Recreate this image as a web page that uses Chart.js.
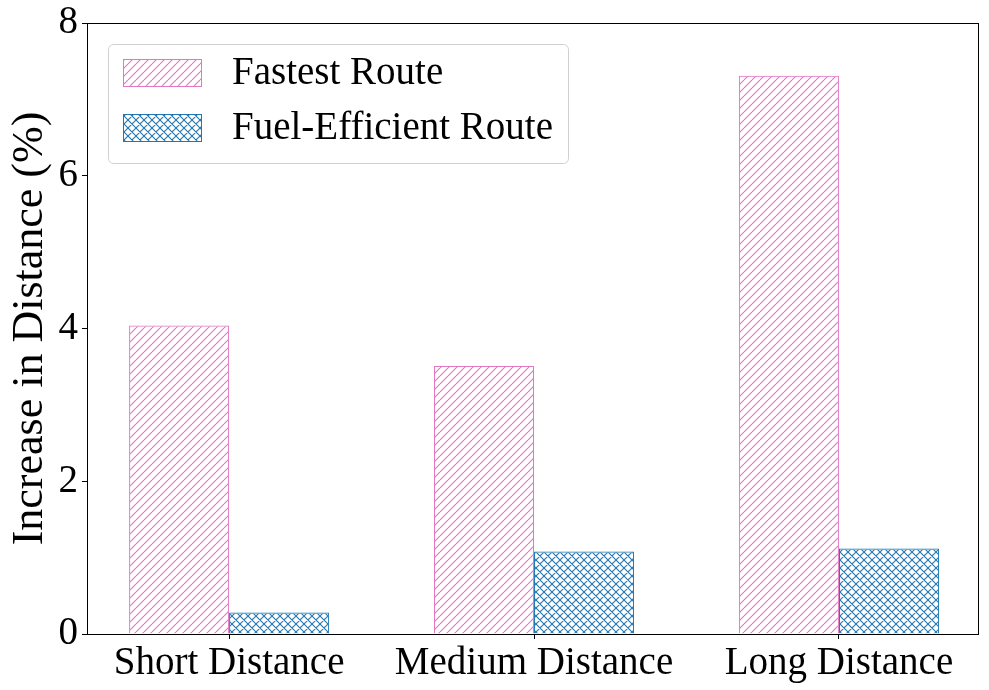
<!DOCTYPE html>
<html>
<head>
<meta charset="utf-8">
<script src="https://cdn.jsdelivr.net/npm/chart.js@4/dist/chart.umd.min.js"></script>
<style>
  html, body { margin: 0; padding: 0; background: #fff; }
  #wrap { width: 989px; height: 690px; }
</style>
</head>
<body>
<div id="wrap"><canvas id="chart" width="989" height="690"></canvas></div>
<script>
const categories = ['Short Distance', 'Medium Distance', 'Long Distance'];
const fastestRoute = [4.04, 3.51, 7.31];
const fuelEfficientRoute = [0.28, 1.08, 1.12];
const yTicks = [0, 2, 4, 6, 8];

const PINK = '#e377c2';
const BLUE = '#1f77b4';
const FONT = '"Liberation Serif", "Times New Roman", serif';

// hatch tiles, close to matplotlib's '//' and 'xx'
function hatch(color, cross) {
  const size = 8;
  const c = document.createElement('canvas');
  c.width = size; c.height = size;
  const g = c.getContext('2d');
  g.strokeStyle = color;
  g.lineWidth = 1.1;
  g.beginPath();
  for (let k = 0; k <= 2 * size; k += size) {
    g.moveTo(k, 0); g.lineTo(k - size, size);
    if (cross) { g.moveTo(k - size, 0); g.lineTo(k, size); }
  }
  g.stroke();
  return document.getElementById('chart').getContext('2d').createPattern(c, 'repeat');
}

const pinkHatch = hatch(PINK, false);
const blueHatch = hatch(BLUE, true);

const toPoints = vals => vals.map((v, i) => ({ x: i, y: v }));

// box around plot + legend inside it
const framePlugin = {
  id: 'frame',
  afterDraw(chart) {
    const { ctx, chartArea: a } = chart;
    ctx.save();
    ctx.strokeStyle = '#000';
    ctx.lineWidth = 1;
    ctx.strokeRect(a.left + 0.5, a.top + 0.5, a.right - a.left, a.bottom - a.top);

    const x0 = a.left + 21, y0 = a.top + 21, w = 460, h = 119;
    ctx.fillStyle = 'rgba(255,255,255,0.8)';
    ctx.strokeStyle = '#d0d0d0';
    ctx.beginPath();
    ctx.roundRect(x0 + 0.5, y0 + 0.5, w, h, 5);
    ctx.fill();
    ctx.stroke();

    ctx.font = '39px ' + FONT;
    ctx.textBaseline = 'middle';
    chart.data.datasets.forEach((ds, i) => {
      const py = y0 + 15 + i * 55;
      ctx.fillStyle = '#fff';
      ctx.fillRect(x0 + 15, py, 78, 27);
      ctx.fillStyle = ds.backgroundColor;
      ctx.fillRect(x0 + 15, py, 78, 27);
      ctx.strokeStyle = ds.borderColor;
      ctx.strokeRect(x0 + 15.5, py + 0.5, 78, 27);
      ctx.fillStyle = '#000';
      ctx.fillText(ds.label, x0 + 124, py + 15);
    });
    ctx.restore();
  }
};

new Chart(document.getElementById('chart'), {
  type: 'bar',
  data: {
    datasets: [
      { label: 'Fastest Route', data: toPoints(fastestRoute), backgroundColor: pinkHatch, borderColor: PINK, borderWidth: 1 },
      { label: 'Fuel-Efficient Route', data: toPoints(fuelEfficientRoute), backgroundColor: blueHatch, borderColor: BLUE, borderWidth: 1 }
    ]
  },
  options: {
    responsive: false,
    animation: false,
    devicePixelRatio: 1,
    layout: { padding: { top: 23, right: 11, left: 0, bottom: 0 } },
    plugins: { legend: { display: false }, tooltip: { enabled: false } },
    datasets: { bar: { categoryPercentage: 0.656, barPercentage: 1 } },
    scales: {
      x: {
        type: 'linear',
        offset: false,
        min: -0.466, max: 2.456,
        afterBuildTicks(s) { s.ticks = categories.map((c, i) => ({ value: i })); },
        grid: { display: true, drawOnChartArea: false, offset: false, tickLength: 5, color: '#000' },
        border: { display: true, color: '#000' },
        ticks: { color: '#000', font: { family: FONT, size: 39 }, padding: 1, maxRotation: 0,
                 callback: v => categories[v] },
        afterFit(s) { s.height = 56; s.paddingLeft = 0; s.paddingRight = 0; }
      },
      y: {
        min: 0, max: 8,
        afterBuildTicks(s) { s.ticks = yTicks.map(v => ({ value: v })); },
        grid: { display: true, drawOnChartArea: false, tickLength: 5, color: '#000' },
        border: { display: true, color: '#000' },
        ticks: { color: '#000', font: { family: FONT, size: 39 }, padding: 4 },
        title: { display: true, text: 'Increase in Distance (%)', color: '#000', font: { family: FONT, size: 44 }, padding: { top: 4, bottom: 0 } },
        afterFit(s) { s.width = 87; s.paddingTop = 0; s.paddingBottom = 0; }
      }
    }
  },
  plugins: [framePlugin]
});
</script>
</body>
</html>
